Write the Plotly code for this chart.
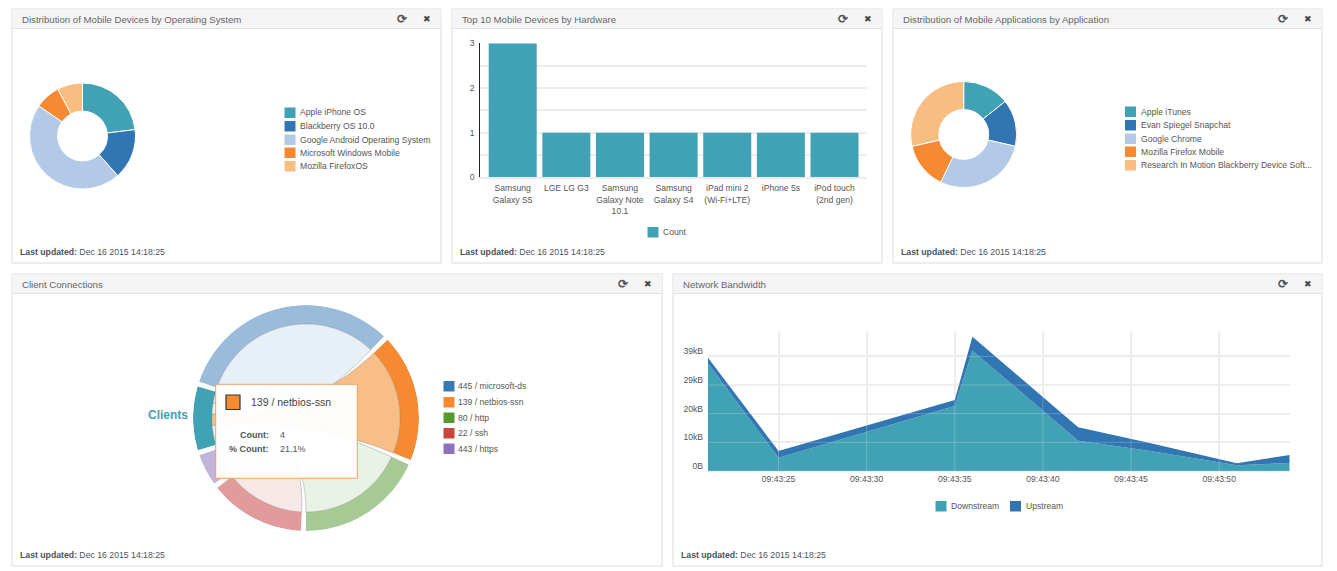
import math

import plotly.graph_objects as go

W, H = 1337, 571
FONT = "Liberation Sans"
TEXT = "#555"

# ---- data ----
TEAL, BLUE, PALE, ORANGE, PEACH = "#41a2b5", "#3176b3", "#b2c9e8", "#f58a33", "#f8bd80"
PIE_COLORS = [TEAL, BLUE, PALE, ORANGE, PEACH]

os_labels = ["Apple iPhone OS", "Blackberry OS 10.0", "Google Android Operating System",
             "Microsoft Windows Mobile", "Mozilla FirefoxOS"]
os_counts = [3, 2, 6, 1, 1]

app_labels = ["Apple iTunes", "Evan Spiegel Snapchat", "Google Chrome", "Mozilla Firefox Mobile",
              "Research In Motion Blackberry Device Soft..."]
app_counts = [1, 1, 2, 1, 2]

hw_labels = ["Samsung<br>Galaxy S5", "LGE LG G3", "Samsung<br>Galaxy Note<br>10.1", "Samsung<br>Galaxy S4",
             "iPad mini 2<br>(Wi-Fi+LTE)", "iPhone 5s", "iPod touch<br>(2nd gen)"]
hw_counts = [3, 1, 1, 1, 1, 1, 1]

port_labels = ["445 / microsoft-ds", "139 / netbios-ssn", "80 / http", "22 / ssh", "443 / https"]
port_counts = [7, 4, 4, 3, 1]
port_legend = ["#337ab7", "#f58a33", "#55992f", "#c9463d", "#8e70bd"]
port_ring = ["#9abbd9", "#f58a33", "#a5ca95", "#e19b9a", "#c2b5dc"]
port_chord = ["#e8f0f7", "#f7bf87", "#e9f2e6", "#f7e8e8", "#e4dff0"]
client_count = 2

bw_times = ["09:43:21", "09:43:25", "09:43:35", "09:43:36", "09:43:42", "09:43:46", "09:43:51", "09:43:54"]
bw_down = [37600, 4650, 22670, 41980, 10580, 7090, 1980, 2790]
bw_up = [1900, 2330, 2100, 4880, 4650, 2790, 690, 2790]
bw_ticks = ["09:43:25", "09:43:30", "09:43:35", "09:43:40", "09:43:45", "09:43:50"]
bw_yticks = [0, 10000, 20000, 30000, 40000]
bw_ylabels = ["0B", "10kB", "20kB", "29kB", "39kB"]

panels = [
    ("Distribution of Mobile Devices by Operating System", 12, 441, 9, 263),
    ("Top 10 Mobile Devices by Hardware", 452, 882, 9, 263),
    ("Distribution of Mobile Applications by Application", 893, 1322, 9, 263),
    ("Client Connections", 12, 662, 274, 566),
    ("Network Bandwidth", 673, 1322, 274, 566),
]


def fx(px):
    return px / W


def fy(py):
    return 1 - py / H


def day(t):
    return "2015-12-16 " + t


shapes = []
annotations = []


def label(px, py, text, size=8.6, color=TEXT, anchor="left"):
    annotations.append(dict(
        x=fx(px), y=fy(py), xref="paper", yref="paper", text=text, showarrow=False,
        xanchor=anchor, yanchor="middle", borderpad=0,
        font=dict(family=FONT, size=size, color=color),
    ))


def box(x0, x1, y0, y1, fill, line=None, width=1, layer="above"):
    shapes.append(dict(
        type="rect", xref="paper", yref="paper", layer=layer,
        x0=fx(x0), x1=fx(x1), y0=fy(y0), y1=fy(y1), fillcolor=fill,
        line=dict(color=line or fill, width=width if line else 0),
    ))


def legend_rows(sw_x, text_x, rows, names, colors, size=8.6):
    for y, name, color in zip(rows, names, colors):
        box(sw_x, sw_x + 11, y - 5, y + 5.5, color, layer="below")
        label(text_x - 1, y, name, size=size)


# panel frames
for title, x0, x1, y0, y1 in panels:
    box(x0, x1, y0, y1, "white", "#dcdcdc", layer="below")
    box(x0 + 0.5, x1 - 0.5, y0 + 0.5, y0 + 19.5, "#f5f5f5", layer="below")
    shapes.append(dict(type="line", xref="paper", yref="paper", layer="below",
                       x0=fx(x0), x1=fx(x1), y0=fy(y0 + 19.5), y1=fy(y0 + 19.5),
                       line=dict(color="#e2e2e2", width=1)))
    label(x0 + 9, y0 + 10.5, title, size=9.65, color="#666")
    label(x1 - 38.5, y0 + 10, "<b>⟳</b>", size=12, color="#555", anchor="center")
    label(x1 - 14, y0 + 10, "✖", size=9, color="#444", anchor="center")
    label(x0 + 6.5, y1 - 11, "<b>Last updated:</b> Dec 16 2015 14:18:25", size=8.7, color="#4a5360")

fig = go.Figure()

# donuts
for labels, counts, cx, cy in [(os_labels, os_counts, 82.5, 136), (app_labels, app_counts, 963.7, 134.5)]:
    fig.add_trace(go.Pie(
        labels=labels, values=counts, sort=False, direction="clockwise", rotation=0, hole=0.47,
        textinfo="none", showlegend=False,
        marker=dict(colors=PIE_COLORS, line=dict(color="white", width=1)),
        domain=dict(x=[fx(cx - 53), fx(cx + 53)], y=[fy(cy + 53), fy(cy - 53)]),
    ))
legend_rows(284.5, 299.5, [112.5, 126, 139.5, 152.5, 166], os_labels, PIE_COLORS)
legend_rows(1125, 1140.5, [111.5, 125, 138.5, 151.5, 165], app_labels, PIE_COLORS)

# hardware bars
fig.add_trace(go.Bar(
    x=hw_labels, y=hw_counts, marker=dict(color=TEAL, line=dict(width=0)),
    name="Count", showlegend=False, xaxis="x", yaxis="y",
))
legend_rows(647.5, 663.3, [232], ["Count"], [TEAL])

# client chord diagram
GAP = 2.6
START = 253.4
RING_IN, RING_OUT = 94, 113
unit = (360 - GAP * (len(port_counts) + 1)) / (sum(port_counts) + client_count)


def ribbon(a0, a1, t0, t1):
    """d3 style ribbon: client arc, curve through the centre, port arc, curve back."""
    pts = []

    def arc(p0, p1):
        n = max(2, int(abs(p1 - p0) / 2))
        for i in range(n + 1):
            a = math.radians(p0 + (p1 - p0) * i / n)
            pts.append((RING_IN * math.sin(a), RING_IN * math.cos(a)))

    def curve(p0, p1):
        a, b = math.radians(p0), math.radians(p1)
        ax, ay = RING_IN * math.sin(a), RING_IN * math.cos(a)
        bx, by = RING_IN * math.sin(b), RING_IN * math.cos(b)
        for i in range(1, 30):
            s = i / 30
            pts.append(((1 - s) ** 2 * ax + s ** 2 * bx, (1 - s) ** 2 * ay + s ** 2 * by))

    arc(a0, a1)
    curve(a1, t0)
    arc(t0, t1)
    curve(t1, a0)
    pts.append(pts[0])
    r = [math.hypot(x, y) for x, y in pts]
    theta = [math.degrees(math.atan2(x, y)) % 360 for x, y in pts]
    return r, theta


client_span = unit * client_count
ring_theta = [START + client_span / 2]
ring_width = [client_span]
ring_color = [TEAL]
chords = []
pos = START + client_span + GAP
client_pos = START
for i, n in enumerate(port_counts):
    span = unit * n
    ring_theta.append(pos + span / 2)
    ring_width.append(span)
    ring_color.append(port_ring[i])
    sub = client_span * n / sum(port_counts)
    chords.append((i, ribbon(client_pos, client_pos + sub, pos, pos + span)))
    client_pos += sub
    pos += span + GAP

# highlighted port goes on top
for i, (r, theta) in sorted(chords, key=lambda c: c[0] == 1):
    fig.add_trace(go.Scatterpolar(
        r=r, theta=theta, mode="lines", fill="toself", fillcolor=port_chord[i],
        line=dict(color="rgba(120,120,120,0.35)", width=1), showlegend=False, hoverinfo="skip",
        subplot="polar",
    ))
fig.add_trace(go.Barpolar(
    r=[RING_OUT - RING_IN] * len(ring_theta), base=RING_IN, theta=ring_theta, width=ring_width,
    marker=dict(color=ring_color, line=dict(width=0)), showlegend=False, subplot="polar",
))
label(188.5, 415, "<b>Clients</b>", size=12, color=TEAL, anchor="right")
legend_rows(443.5, 458.3, [386, 402, 417.5, 433, 448.5], port_labels, port_legend)

# tooltip
box(215.7, 357.3, 384.3, 478.3, "rgba(255,255,255,0.95)", "#f0a060")
box(226, 240, 395, 409.5, ORANGE, "#333", 1.2)
label(249.5, 401.7, port_labels[1], size=10.5, color="#444")
label(269.5, 435.3, "<b>Count:</b>", size=9, anchor="right")
label(278.7, 435.3, str(port_counts[1]), size=9)
label(269.5, 449, "<b>% Count:</b>", size=9, anchor="right")
label(278.7, 449, f"{port_counts[1] / sum(port_counts):.1%}", size=9)

# bandwidth
for name, vals, color in [("Downstream", bw_down, TEAL), ("Upstream", bw_up, BLUE)]:
    fig.add_trace(go.Scatter(
        x=[day(t) for t in bw_times], y=vals, name=name, stackgroup="bw", mode="lines",
        line=dict(width=0), fillcolor=color, showlegend=False, xaxis="x2", yaxis="y2",
    ))
for t in bw_ticks:
    shapes.append(dict(type="line", xref="x2", yref="y2 domain", x0=day(t), x1=day(t), y0=0, y1=1,
                       layer="above", line=dict(color="rgba(255,255,255,0.22)", width=1)))
for v in bw_yticks:
    shapes.append(dict(type="line", xref="x2 domain", yref="y2", x0=0, x1=1, y0=v, y1=v,
                       layer="above", line=dict(color="rgba(255,255,255,0.22)", width=1)))
legend_rows(935.5, 951.3, [506], ["Downstream"], [TEAL])
legend_rows(1010, 1026.2, [506], ["Upstream"], [BLUE])

GRID = "#ececec"
tick_font = dict(family=FONT, size=8.6, color=TEXT)
fig.update_layout(
    width=W, height=H, margin=dict(l=0, r=0, t=0, b=0, autoexpand=False), autosize=False,
    paper_bgcolor="white", plot_bgcolor="rgba(0,0,0,0)",
    font=dict(family=FONT), showlegend=False, bargap=0.105,
    shapes=shapes, annotations=annotations,
    xaxis=dict(
        domain=[fx(480.3), fx(866.7)], range=[-0.604, 6.6], type="category",
        showgrid=False, showline=True, linecolor=GRID, linewidth=1.5, ticks="", tickfont=tick_font,
        tickangle=0, zeroline=False, fixedrange=True, ticklabelstandoff=2,
    ),
    yaxis=dict(
        domain=[fy(177.3), fy(43.3)], range=[0, 3],
        tickvals=[0, 0.5, 1, 1.5, 2, 2.5, 3], ticktext=["0", "", "1", "", "2", "", "3"],
        showgrid=True, gridcolor=GRID, gridwidth=1.5, showline=True, linecolor="#222", linewidth=1,
        ticks="", tickfont=tick_font, zeroline=False, fixedrange=True, ticklabelstandoff=3,
    ),
    xaxis2=dict(
        domain=[fx(708), fx(1289.7)], range=[day("09:43:21"), day("09:43:54")], type="date",
        tickvals=[day(t) for t in bw_ticks], ticktext=bw_ticks, showgrid=True, gridcolor=GRID,
        gridwidth=1.5, showline=True, linecolor=GRID, ticks="", tickfont=tick_font, anchor="y2", zeroline=False,
    ),
    yaxis2=dict(
        domain=[fy(471), fy(331.7)], range=[0, 48600], tickvals=bw_yticks, ticktext=bw_ylabels,
        showgrid=True, gridcolor=GRID, gridwidth=1.5, ticks="", tickfont=tick_font, anchor="x2", zeroline=False,
        ticklabelshift=-5, ticklabelstandoff=4,
    ),
    polar=dict(
        domain=dict(x=[fx(306 - RING_OUT), fx(306 + RING_OUT)], y=[fy(418 + RING_OUT), fy(418 - RING_OUT)]),
        bgcolor="rgba(0,0,0,0)",
        radialaxis=dict(range=[0, RING_OUT], visible=False),
        angularaxis=dict(direction="clockwise", rotation=90, visible=False),
        bargap=0,
    ),
)

fig.write_html("out.html", config=dict(displayModeBar=False),
               post_script="document.body.style.margin='0';")
